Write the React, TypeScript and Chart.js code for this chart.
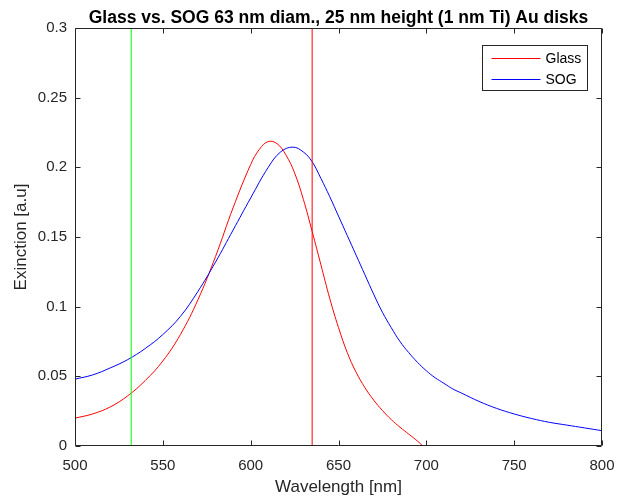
import React, { useEffect, useRef } from "react";
import { Chart, registerables } from "chart.js";

Chart.register(...registerables);

const glassWavelengths = [500, 510, 520, 530, 540, 550, 560, 570, 580, 590, 600, 605, 610, 615, 620, 625, 630, 635, 640, 645, 650, 655, 660, 665, 670, 675, 680, 685, 690, 695, 698];
const glassValues = [0.020, 0.023, 0.028, 0.036, 0.047, 0.061, 0.080, 0.105, 0.136, 0.171, 0.202, 0.213, 0.2185, 0.217, 0.209, 0.196, 0.177, 0.154, 0.130, 0.106, 0.085, 0.067, 0.053, 0.042, 0.033, 0.0255, 0.019, 0.0135, 0.0085, 0.0035, 0.0];

const sogWavelengths = [500, 510, 520, 530, 540, 550, 560, 570, 580, 590, 600, 610, 617, 624, 630, 635, 640, 645, 650, 655, 660, 665, 670, 675, 680, 685, 690, 695, 700, 705, 710, 715, 720, 730, 740, 750, 760, 770, 780, 790, 800];
const sogValues = [0.048, 0.051, 0.056, 0.062, 0.070, 0.080, 0.093, 0.111, 0.132, 0.155, 0.178, 0.200, 0.211, 0.2145, 0.211, 0.204, 0.192, 0.179, 0.165, 0.151, 0.137, 0.123, 0.109, 0.096, 0.085, 0.075, 0.067, 0.060, 0.054, 0.049, 0.045, 0.041, 0.038, 0.032, 0.027, 0.023, 0.0197, 0.017, 0.015, 0.013, 0.011];

const greenLaser = 532;
const redLaser = 635;
const yRange = [0, 0.3];

const xTicks = [500, 550, 600, 650, 700, 750, 800];
const yTicks = [0, 0.05, 0.1, 0.15, 0.2, 0.25, 0.3];
const yTickLabels = ["0", "0.05", "0.1", "0.15", "0.2", "0.25", "0.3"];

const titleText = "Glass vs. SOG 63 nm diam., 25 nm height (1 nm Ti) Au disks";
const xLabel = "Wavelength [nm]";
const yLabel = "Exinction [a.u]";
const legendLabels = ["Glass", "SOG"];

const FONT = "'Liberation Sans', Arial, Helvetica, sans-serif";
const AXIS_COLOR = "#262626";

const matlabAxes = {
  id: "matlabAxes",
  afterDraw(chart: any) {
    const { ctx, chartArea } = chart;
    const { left, right, top, bottom } = chartArea;
    const xs = chart.scales.x;
    const ys = chart.scales.y;
    ctx.save();
    ctx.strokeStyle = AXIS_COLOR;
    ctx.lineWidth = 1;
    const L = Math.round(left) + 0.5;
    const R = Math.round(right) - 0.5;
    const T = Math.round(top) + 0.5;
    const B = Math.round(bottom) - 0.5;
    ctx.beginPath();
    ctx.rect(L, T, R - L, B - T);
    ctx.stroke();
    const tl = 5;
    ctx.beginPath();
    xTicks.forEach((v) => {
      const px = Math.round(xs.getPixelForValue(v)) + 0.5;
      ctx.moveTo(px, B);
      ctx.lineTo(px, B - tl);
      ctx.moveTo(px, T);
      ctx.lineTo(px, T + tl);
    });
    yTicks.forEach((v) => {
      const py = Math.round(ys.getPixelForValue(v)) + 0.5;
      ctx.moveTo(L, py);
      ctx.lineTo(L + tl, py);
      ctx.moveTo(R, py);
      ctx.lineTo(R - tl, py);
    });
    ctx.stroke();

    // legend
    const bx1 = Math.round(right - 15) + 0.5;
    const bx0 = bx1 - 105;
    const by0 = Math.round(top + 17) + 0.5;
    const by1 = by0 + 45;
    ctx.fillStyle = "#ffffff";
    ctx.fillRect(bx0, by0, bx1 - bx0, by1 - by0);
    ctx.strokeStyle = AXIS_COLOR;
    ctx.strokeRect(bx0, by0, bx1 - bx0, by1 - by0);
    const sets = chart.data.datasets.filter((d: any) => legendLabels.includes(d.label));
    sets.forEach((d: any, i: number) => {
      const y = by0 + 13 + i * 21;
      ctx.strokeStyle = d.borderColor;
      ctx.lineWidth = 1;
      ctx.beginPath();
      ctx.moveTo(bx0 + 9, y);
      ctx.lineTo(bx0 + 58, y);
      ctx.stroke();
      ctx.fillStyle = "#000000";
      ctx.font = `14px ${FONT}`;
      ctx.textAlign = "left";
      ctx.textBaseline = "middle";
      ctx.fillText(d.label, bx0 + 63, y + 0.5);
    });
    ctx.restore();
  },
};

export default function App() {
  const ref = useRef<HTMLCanvasElement | null>(null);
  useEffect(() => {
    if (!ref.current) return;
    const chart = new Chart(ref.current, {
      type: "line",
      data: {
        datasets: [
          {
            label: legendLabels[0],
            data: glassWavelengths.map((x, i) => ({ x, y: glassValues[i] })),
            borderColor: "#ff0000",
            borderWidth: 1,
            pointRadius: 0,
            tension: 0.4,
            order: 3,
          },
          {
            label: legendLabels[1],
            data: sogWavelengths.map((x, i) => ({ x, y: sogValues[i] })),
            borderColor: "#0000ff",
            borderWidth: 1,
            pointRadius: 0,
            tension: 0.4,
            order: 2,
          },
          {
            label: "532 nm",
            data: yRange.map((y) => ({ x: greenLaser, y })),
            borderColor: "#00ff00",
            borderWidth: 1,
            pointRadius: 0,
            order: 1,
          },
          {
            label: "635 nm",
            data: yRange.map((y) => ({ x: redLaser, y })),
            borderColor: "#ff0000",
            borderWidth: 1,
            pointRadius: 0,
            order: 0,
          },
        ],
      },
      options: {
        animation: false,
        responsive: false,
        layout: { padding: { left: 0, right: 16, top: 0, bottom: 0 } },
        plugins: {
          legend: { display: false },
          tooltip: { enabled: false },
          title: {
            display: true,
            text: titleText,
            fullSize: false,
            color: "#000000",
            font: { family: FONT, size: 17.5, weight: "bold", lineHeight: 1 },
            padding: { top: 9, bottom: 1.5 },
          },
        },
        scales: {
          x: {
            type: "linear",
            min: 500,
            max: 800,
            afterFit: (s: any) => { s.height = 55; s.paddingLeft = 0; s.paddingRight = 0; },
            afterBuildTicks: (s: any) => { s.ticks = xTicks.map((v) => ({ value: v })); },
            grid: { display: false, drawTicks: false },
            border: { display: false },
            ticks: {
              color: AXIS_COLOR,
              font: { family: FONT, size: 15 },
              padding: 11,
              maxRotation: 0,
            },
            title: {
              display: true,
              text: xLabel,
              color: AXIS_COLOR,
              font: { family: FONT, size: 17 },
              padding: { top: 0, bottom: 3 },
            },
          },
          y: {
            type: "linear",
            min: 0,
            max: 0.3,
            afterFit: (s: any) => { s.width = 75; s.paddingTop = 0; s.paddingBottom = 0; },
            afterBuildTicks: (s: any) => { s.ticks = yTicks.map((v) => ({ value: v })); },
            grid: { display: false, drawTicks: false },
            border: { display: false },
            ticks: {
              color: AXIS_COLOR,
              font: { family: FONT, size: 15 },
              padding: 8,
              callback: (v: any) => {
                const i = yTicks.findIndex((t) => Math.abs(t - v) < 1e-9);
                return i >= 0 ? yTickLabels[i] : "";
              },
            },
            title: {
              display: true,
              text: yLabel,
              color: AXIS_COLOR,
              font: { family: FONT, size: 17 },
              padding: { top: 11, bottom: 0 },
            },
          },
        },
      },
      plugins: [matlabAxes],
    });
    return () => chart.destroy();
  }, []);
  return (
    <div style={{ position: "fixed", left: 0, top: 0, width: 618, height: 501, background: "#fff" }}>
      <canvas ref={ref} width={618} height={501} style={{ display: "block" }} />
    </div>
  );
}
